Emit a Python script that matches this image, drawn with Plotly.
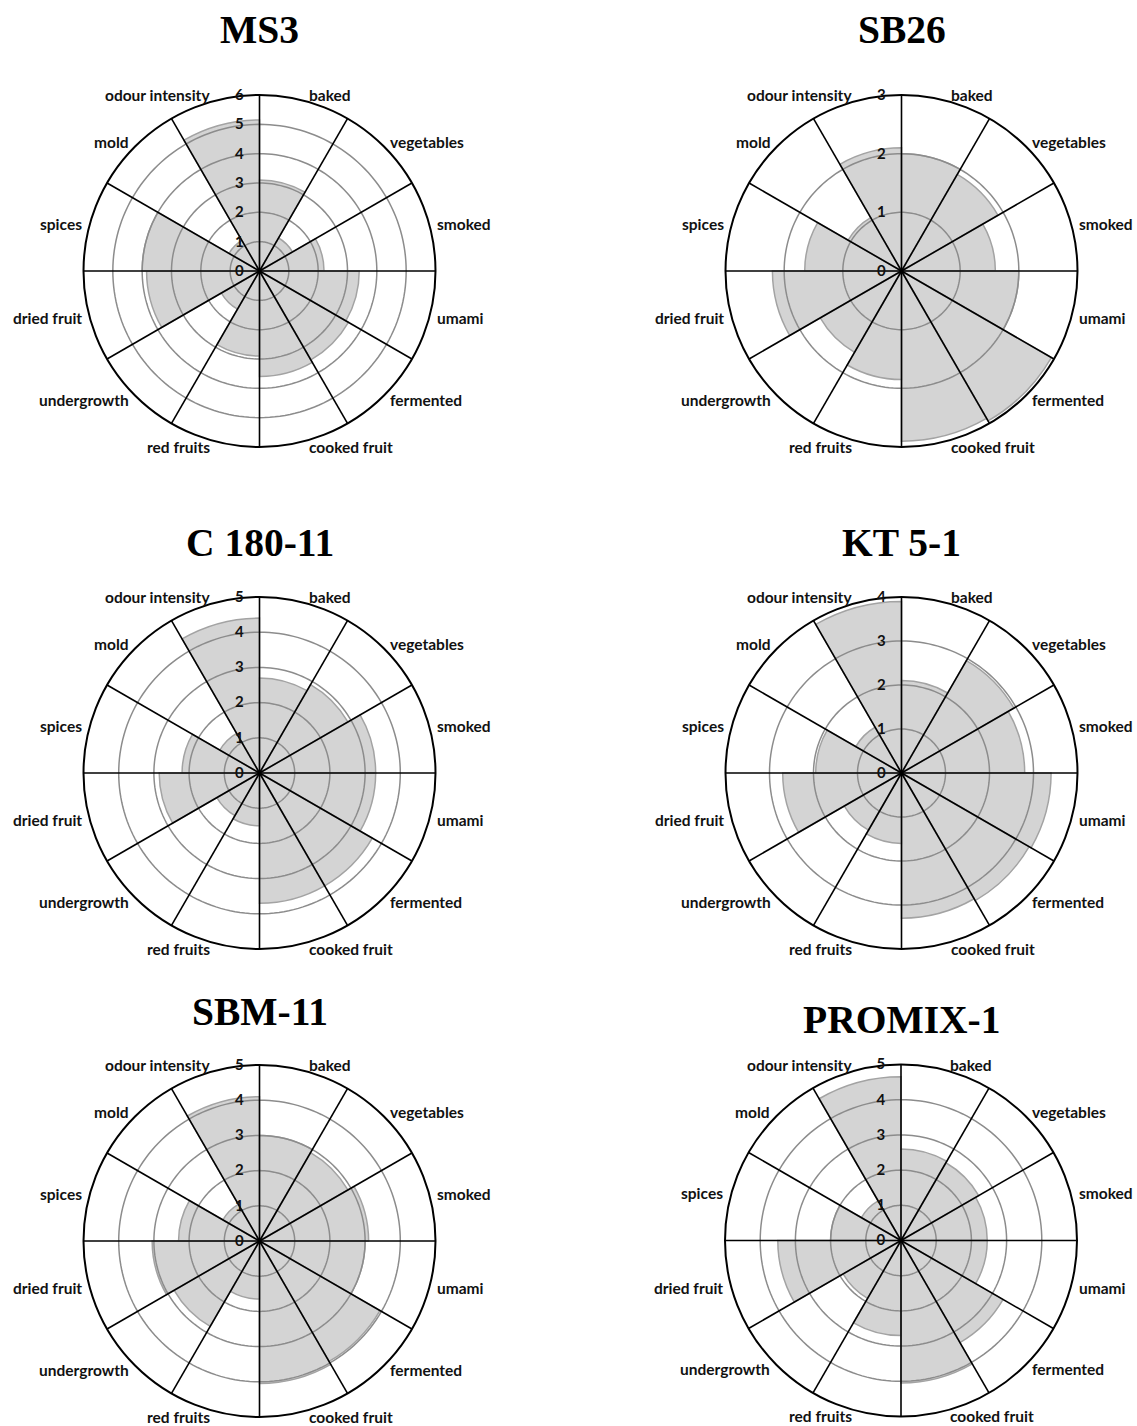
import math
import plotly.graph_objects as go

W, H = 1137, 1426

# Sensory attributes, listed clockwise starting with the sector just left of 12 o'clock
attributes = ["odour intensity", "baked", "vegetables", "smoked", "umami", "fermented",
              "cooked fruit", "red fruits", "undergrowth", "dried fruit", "spices", "mold"]

# Mean panel scores per strain
ms3 = [5.15, 3.1, 1.3, 2.2, 3.4, 3.5, 3.6, 2.9, 1.5, 3.85, 4.0, 1.2]
sb26 = [2.1, 2.0, 1.9, 1.6, 2.0, 2.95, 2.9, 1.85, 1.6, 2.2, 1.65, 1.05]
c180_11 = [4.4, 2.7, 2.9, 3.3, 3.3, 3.7, 3.7, 1.5, 1.4, 2.85, 2.2, 1.3]
kt5_1 = [3.9, 2.1, 2.95, 2.8, 3.4, 3.35, 3.3, 1.6, 1.5, 2.7, 1.95, 1.2]
sbm_11 = [4.1, 3.0, 2.9, 3.1, 3.0, 3.95, 4.05, 1.65, 2.8, 3.05, 2.3, 1.2]
promix_1 = [4.65, 2.6, 2.55, 2.45, 2.45, 3.35, 4.05, 2.7, 1.9, 3.5, 2.0, 1.3]

titles = ["MS3", "SB26", "C 180-11", "KT 5-1", "SBM-11", "PROMIX-1"]
series = [ms3, sb26, c180_11, kt5_1, sbm_11, promix_1]
scale_max = [6, 3, 5, 4, 5, 5]

# Panel placement (pixels)
centers = [(259.5, 271), (901.5, 271), (259.5, 773), (901.5, 773), (259.5, 1241), (901, 1240.5)]
title_y = [30, 30, 543, 543, 1012, 1020]
R = 176          # plot radius in px
LABEL_GAP = 6    # distance of the attribute names from the outer ring

n = len(attributes)
step = 360 / n
theta_mid = [(-step / 2 + step * i) % 360 for i in range(n)]
boundaries = [step * i for i in range(n)]

label_font = dict(family="Lato", size=15.5, color="#111111", weight="bold")

fig = go.Figure()
layout_polars = {}
annotations = []

for k, (vals, rmax) in enumerate(zip(series, scale_max)):
    pid = "polar" if k == 0 else f"polar{k + 1}"
    sub = pid

    fig.add_trace(go.Barpolar(
        r=vals, theta=theta_mid, width=[step] * n,
        marker=dict(color="#d4d4d4", line=dict(color="#a3a3a3", width=1.5)),
        subplot=sub, hoverinfo="skip", showlegend=False,
    ))

    # concentric scale circles drawn over the sectors
    circ_theta = list(range(0, 361, 2))
    for level in range(1, rmax):
        fig.add_trace(go.Scatterpolar(
            r=[level] * len(circ_theta), theta=circ_theta, mode="lines",
            line=dict(color="#8c8c8c", width=1.5), subplot=sub,
            hoverinfo="skip", showlegend=False,
        ))

    # spokes on the sector boundaries
    sr, st = [], []
    for b in boundaries:
        sr += [0, rmax, None]
        st += [b, b, None]
    fig.add_trace(go.Scatterpolar(
        r=sr, theta=st, mode="lines", line=dict(color="#000000", width=1.6),
        subplot=sub, hoverinfo="skip", showlegend=False,
    ))

    cx, cy = centers[k]
    layout_polars[pid] = dict(
        domain=dict(x=[(cx - R) / W, (cx + R) / W], y=[1 - (cy + R) / H, 1 - (cy - R) / H]),
        bgcolor="white",
        angularaxis=dict(
            type="linear", thetaunit="degrees", direction="clockwise", rotation=90,
            tickmode="array", tickvals=theta_mid, ticktext=attributes, showticklabels=False,
            showgrid=False, ticks="", showline=True, linecolor="#000000", linewidth=2,
        ),
        radialaxis=dict(
            range=[0, rmax], tickmode="linear", tick0=0, dtick=1, angle=90,
            tickangle=90, side="counterclockwise", showgrid=False, showline=False,
            ticks="outside", ticklen=10, tickcolor="rgba(0,0,0,0)",
            tickfont=dict(family="Lato", size=15, color="#111111", weight="bold"),
        ),
    )

    # attribute names just outside the ring, at the middle of each sector
    for name, th in zip(attributes, theta_mid):
        a = math.radians(th)
        px = cx + (R + LABEL_GAP) * math.sin(a)
        py = cy - (R + LABEL_GAP) * math.cos(a)
        annotations.append(dict(
            text=name, x=px / W, y=1 - py / H, xref="paper", yref="paper",
            xanchor="left" if math.sin(a) > 0 else "right", yanchor="middle",
            showarrow=False, font=label_font,
        ))

    annotations.append(dict(
        text=f"<b>{titles[k]}</b>", x=cx / W, y=1 - title_y[k] / H,
        xref="paper", yref="paper", xanchor="center", yanchor="middle",
        showarrow=False, font=dict(family="Liberation Serif", size=39.5, color="#000000"),
    ))

fig.update_layout(
    width=W, height=H, margin=dict(l=0, r=0, t=0, b=0),
    paper_bgcolor="white", plot_bgcolor="white", showlegend=False,
    annotations=annotations, **layout_polars,
)

fig.write_html("out.html")
